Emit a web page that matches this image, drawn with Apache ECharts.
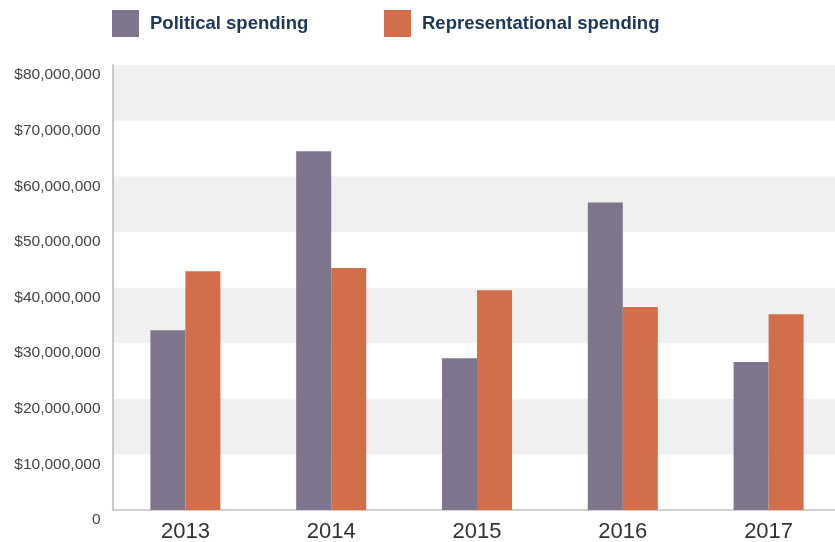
<!DOCTYPE html>
<html>
<head>
<meta charset="utf-8">
<script src="https://cdn.jsdelivr.net/npm/echarts@6/dist/echarts.min.js"></script>
<style>
  html, body { margin: 0; padding: 0; background: #ffffff; overflow: hidden; }
  #chart { width: 835px; height: 542px; }
</style>
</head>
<body>
<div id="chart"></div>
<script>
// Annual spending, in dollars
const years = ['2013', '2014', '2015', '2016', '2017'];
const politicalSpending = [32300000, 64500000, 27300000, 55300000, 26600000];
const representationalSpending = [42900000, 43500000, 39500000, 36500000, 35200000];
const seriesNames = ['Political spending', 'Representational spending'];

const yMin = 0;
const yMax = 80000000;
const yStep = 10000000;

const chart = echarts.init(document.getElementById('chart'), null, { renderer: 'canvas' });

const legendText = {
  color: '#1b3658',
  fontFamily: 'Liberation Sans, Arial, sans-serif',
  fontWeight: 'bold',
  fontSize: 18.5,
  padding: [4, 0, 0, 6]
};

chart.setOption({
  animation: false,
  color: ['#7e748c', '#d36e4a'],
  legend: [
    {
      left: 112, top: 10, padding: 0,
      itemWidth: 27, itemHeight: 27,
      icon: 'rect',
      data: [seriesNames[0]],
      textStyle: legendText
    },
    {
      left: 384, top: 10, padding: 0,
      itemWidth: 27, itemHeight: 27,
      icon: 'rect',
      data: [seriesNames[1]],
      textStyle: legendText
    }
  ],
  // the plot runs a little past the right edge of the page
  grid: { left: 112.5, top: 65, width: 729, height: 445, outerBoundsMode: 'none' },
  xAxis: {
    type: 'category',
    data: years,
    axisLine: { show: true, lineStyle: { color: '#d0d0d0', width: 2 } },
    axisTick: { show: false },
    axisLabel: {
      color: '#333333',
      fontFamily: 'Liberation Sans, Arial, sans-serif',
      fontSize: 22,
      margin: 11
    }
  },
  yAxis: {
    type: 'value',
    min: yMin,
    max: yMax,
    interval: yStep,
    axisLine: { show: true, lineStyle: { color: '#c8c8c8', width: 2 } },
    axisTick: { show: false },
    splitLine: { show: false },
    splitArea: { show: true, areaStyle: { color: ['#ffffff', '#eff0ef'] } },
    axisLabel: {
      color: '#444444',
      fontFamily: 'Liberation Sans, Arial, sans-serif',
      fontSize: 15.5,
      margin: 12,
      verticalAlign: 'top',
      padding: [2, 0, 0, 0],
      formatter: function (v) {
        return v === 0 ? '0' : '$' + v.toLocaleString('en-US');
      }
    }
  },
  series: [
    {
      name: seriesNames[0],
      type: 'bar',
      data: politicalSpending,
      barWidth: 35,
      barGap: '0%'
    },
    {
      name: seriesNames[1],
      type: 'bar',
      data: representationalSpending,
      barWidth: 35,
      barGap: '0%'
    }
  ]
});
</script>
</body>
</html>
